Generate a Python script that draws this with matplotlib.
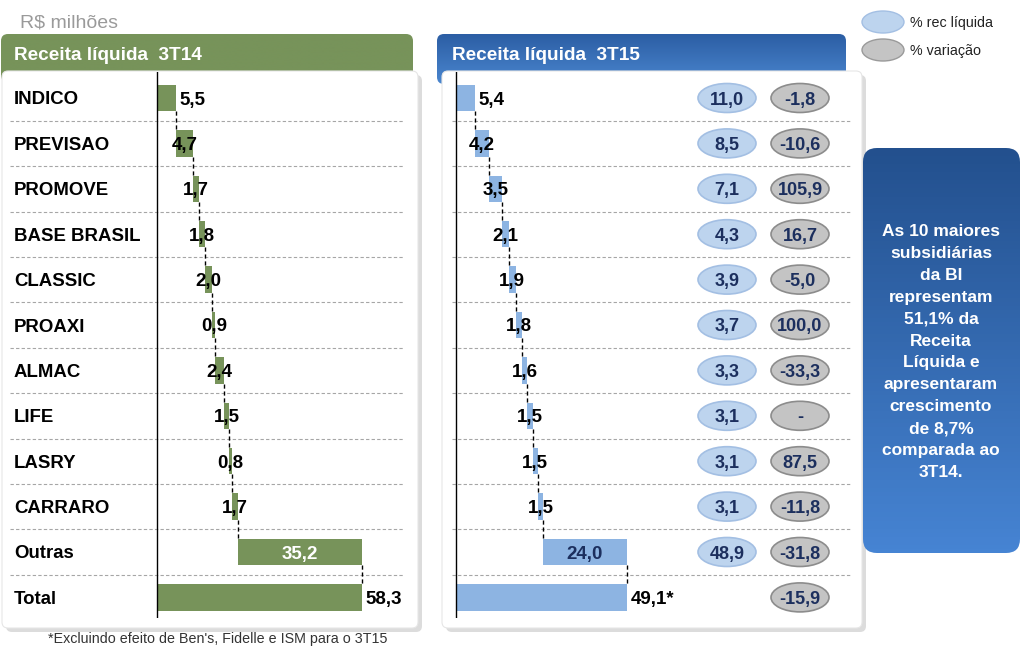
import matplotlib.pyplot as plt
import numpy as np
from matplotlib.patches import FancyBboxPatch, Ellipse
from matplotlib.colors import LinearSegmentedColormap

plt.rcParams['font.family'] = ['Liberation Sans', 'DejaVu Sans']

# dados (R$ milhões)
empresas = ["INDICO", "PREVISAO", "PROMOVE", "BASE BRASIL", "CLASSIC", "PROAXI",
            "ALMAC", "LIFE", "LASRY", "CARRARO", "Outras"]
rec_3t14 = [5.5, 4.7, 1.7, 1.8, 2.0, 0.9, 2.4, 1.5, 0.8, 1.7, 35.2]
total_3t14 = 58.3
rec_3t15 = [5.4, 4.2, 3.5, 2.1, 1.9, 1.8, 1.6, 1.5, 1.5, 1.5, 24.0]
total_3t15 = 49.1
pct_rec = [11.0, 8.5, 7.1, 4.3, 3.9, 3.7, 3.3, 3.1, 3.1, 3.1, 48.9]
pct_var = [-1.8, -10.6, 105.9, 16.7, -5.0, 100.0, -33.3, None, 87.5, -11.8, -31.8, -15.9]

texto_box = ["As 10 maiores", "subsidiárias", "da BI", "representam", "51,1% da",
             "Receita", "Líquida e", "apresentaram", "crescimento", "de 8,7%",
             "comparada ao", "3T14."]

VERDE = '#77935a'
AZUL = '#8db4e2'
NAVY = '#1c2f5e'
FS_ROT = 13.4   # nomes das linhas
FS_VAL = 13.5   # valores das barras
FS_PIL = 13     # valores das pílulas
VA = 'center_baseline'


def fmt(v):
    return f"{v:.1f}".replace(".", ",")


W, H = 1024, 654
fig = plt.figure(figsize=(W / 100, H / 100), dpi=100)
base = fig.add_axes([0, 0, 1, 1])
base.axis('off')


def px_axes(x0, y0, x1, y1):
    return fig.add_axes([x0 / W, 1 - y1 / H, (x1 - x0) / W, (y1 - y0) / H])


def grad_box(x0, y0, x1, y1, c_top, c_bot, r, z):
    patch = FancyBboxPatch((x0, y0), x1 - x0, y1 - y0,
                           boxstyle=f"round,pad=0,rounding_size={r}",
                           facecolor='none', edgecolor='none', zorder=z)
    base.add_patch(patch)
    cmap = LinearSegmentedColormap.from_list('g', [c_top, c_bot])
    grad = np.linspace(0, 1, 100).reshape(-1, 1)
    im = base.imshow(grad, cmap=cmap, extent=(x0, x1, y1, y0), aspect='auto',
                     zorder=z, origin='upper')
    im.set_clip_path(patch)


def panel(x0, y0, x1, y1):
    base.add_patch(FancyBboxPatch((x0 + 4, y0 + 4), x1 - x0, y1 - y0,
                                  boxstyle="round,pad=0,rounding_size=6",
                                  facecolor='#dcdcdc', edgecolor='none', zorder=2))
    base.add_patch(FancyBboxPatch((x0, y0), x1 - x0, y1 - y0,
                                  boxstyle="round,pad=0,rounding_size=6",
                                  facecolor='white', edgecolor='#e6e6e6', lw=0.8, zorder=3))


# cabeçalhos e painéis
grad_box(1, 34, 413, 82, VERDE, VERDE, 7, 1)
grad_box(437, 34, 846, 84, '#2c5ea4', '#4a86cf', 7, 1)
panel(2, 71, 418, 628)
panel(442, 71, 862, 628)
grad_box(863, 148, 1020, 553, '#23508e', '#4684d3', 14, 4)

base.text(14, 53, "Receita líquida  3T14", color='white', fontsize=13.7,
          fontweight='bold', va=VA, zorder=5)
base.text(452, 53, "Receita líquida  3T15", color='white', fontsize=13.7,
          fontweight='bold', va=VA, zorder=5)
base.text(20, 21, "R$ milhões", color='#9a9a9a', fontsize=14, va=VA)
base.text(218, 637, "*Excluindo efeito de Ben's, Fidelle e ISM para o 3T15",
          color='#333333', fontsize=10.3, ha='center', va=VA, zorder=5)
base.text(941, 352, "\n".join(texto_box), color='white', fontsize=12.5,
          fontweight='bold', ha='center', va='center', linespacing=1.58, zorder=5)

# legenda
base.add_patch(Ellipse((883, 22), 42, 22, facecolor='#bdd4ee', edgecolor='#a3bfe3', lw=1, zorder=5))
base.add_patch(Ellipse((883, 50), 42, 22, facecolor='#c4c4c4', edgecolor='#9a9a9a', lw=1, zorder=5))
base.text(910, 22, "% rec líquida", fontsize=10.3, va=VA, color='#222222')
base.text(910, 50, "% variação", fontsize=10.3, va=VA, color='#222222')

base.set_xlim(0, W)
base.set_ylim(H, 0)

ROW0, PITCH = 98, 45.4
ytop = (72 - ROW0) / PITCH
ybot = (618 - ROW0) / PITCH
BAR_H = 0.58


def waterfall(ax, valores, total, cor, cor_outras, labels, sep_span):
    n = len(valores)
    fim = np.cumsum(valores)
    ini = fim - np.array(valores)
    ys = np.arange(n + 1)
    ax.barh(ys[:n], valores, left=ini, height=BAR_H, color=cor, zorder=3)
    ax.barh(ys[n], total, left=0, height=BAR_H, color=cor, zorder=3)
    # conectores
    for i in range(n):
        ax.plot([fim[i], fim[i]], [i + BAR_H / 2, i + 1 - BAR_H / 2],
                color='black', lw=1, ls=(0, (3, 2)), zorder=2)
    # separadores
    for i in range(n):
        ax.axhline(i + 0.5, xmin=sep_span[0], xmax=sep_span[1], color='#a6a6a6',
                   lw=0.8, ls=(0, (3, 2)), zorder=1)
    ax.axvline(0, color='black', lw=1, zorder=4)
    # rótulos
    for i, v in enumerate(valores):
        if i == 0:
            ax.text(fim[i] + 1.0, i, fmt(v), ha='left', va=VA, fontsize=FS_VAL,
                    fontweight='bold', zorder=5)
        elif i == n - 1:
            ax.text((ini[i] + fim[i]) / 2, i, fmt(v), ha='center', va=VA,
                    fontsize=FS_VAL, fontweight='bold', color=cor_outras, zorder=5)
        else:
            ax.text((ini[i] + fim[i]) / 2, i, fmt(v), ha='center', va=VA,
                    fontsize=FS_VAL, fontweight='bold', zorder=5)
    ax.text(total + 1.0, n, labels, ha='left', va=VA, fontsize=FS_VAL,
            fontweight='bold', zorder=5)
    ax.set_ylim(ybot, ytop)
    ax.axis('off')


# painel esquerdo 3T14
S1 = 3.52
axl = px_axes(10, 72, 410, 618)
axl.patch.set_alpha(0)
axl.set_xlim(-(157 - 10) / S1, (410 - 157) / S1)
waterfall(axl, rec_3t14, total_3t14, VERDE, 'white', fmt(total_3t14), (0, 0.985))
for i, nome in enumerate(empresas + ["Total"]):
    axl.text(0.01, i, nome, transform=axl.get_yaxis_transform(), ha='left',
             va=VA, fontsize=FS_ROT, fontweight='bold', zorder=5)

# painel direito 3T15
S2 = 3.48
axr = px_axes(448, 72, 852, 618)
axr.patch.set_alpha(0)
axr.set_xlim(-(456 - 448) / S2, (852 - 456) / S2)
waterfall(axr, rec_3t15, total_3t15, AZUL, NAVY, fmt(total_3t15) + "*", (0.01, 0.995))

x_rec = (727 - 456) / S2
x_var = (800 - 456) / S2
ew = 58 / S2
eh = 29 / PITCH
for i, v in enumerate(pct_rec):
    axr.add_patch(Ellipse((x_rec, i), ew, eh, facecolor='#bdd4ee', edgecolor='#a3bfe3',
                          lw=1.2, zorder=4))
    axr.text(x_rec, i, fmt(v), ha='center', va=VA, fontsize=FS_PIL,
             fontweight='bold', color=NAVY, zorder=5)
for i, v in enumerate(pct_var):
    axr.add_patch(Ellipse((x_var, i), ew, eh, facecolor='#c4c4c4', edgecolor='#8c8c8c',
                          lw=1.2, zorder=4))
    axr.text(x_var, i, "-" if v is None else fmt(v), ha='center', va=VA,
             fontsize=FS_PIL, fontweight='bold', color=NAVY, zorder=5)

fig.savefig("out.png", dpi=100)
